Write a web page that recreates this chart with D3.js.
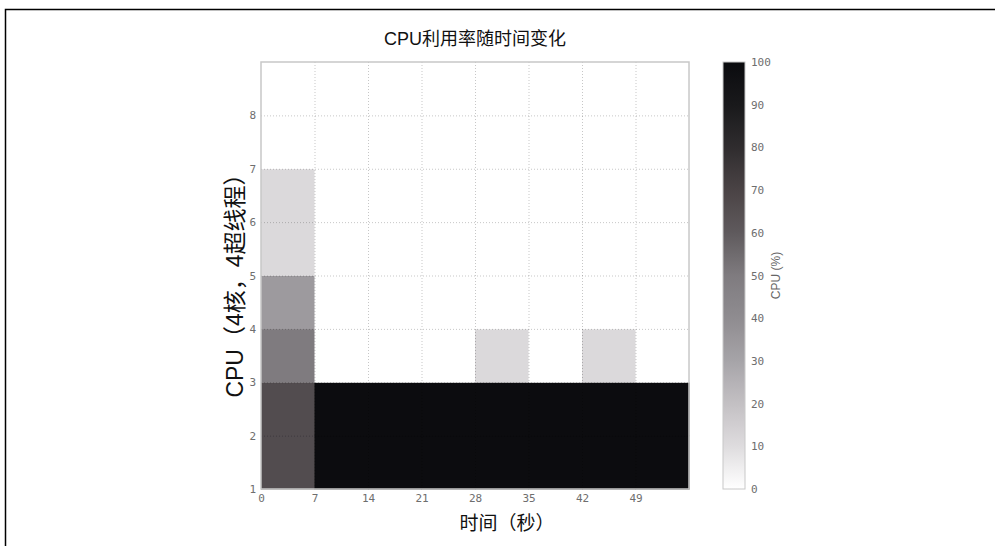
<!DOCTYPE html>
<html>
<head>
<meta charset="utf-8">
<script src="https://cdn.jsdelivr.net/npm/d3@7"></script>
<style>
  body { margin: 0; background: #fff; }
  .tick text { font-family: "DejaVu Sans Mono", monospace; fill: #6e6e6e; font-size: 11px; }
</style>
</head>
<body>
<script>
// data
var timeTicks = [0, 7, 14, 21, 28, 35, 42, 49];
var binStarts = [0, 7, 14, 21, 28, 35, 42, 49];
var cpuTicks = [1, 2, 3, 4, 5, 6, 7, 8];
var cpuRows = [1, 2, 3, 4, 5, 6, 7, 8];
var usage = [
    [66, 66, 50, 34, 11, 11, 0, 0],
    [99, 99, 0, 0, 0, 0, 0, 0],
    [99, 99, 0, 0, 0, 0, 0, 0],
    [99, 99, 0, 0, 0, 0, 0, 0],
    [99, 99, 11, 0, 0, 0, 0, 0],
    [99, 99, 0, 0, 0, 0, 0, 0],
    [99, 99, 11, 0, 0, 0, 0, 0],
    [99, 99, 0, 0, 0, 0, 0, 0]
];
var barTicks = [0, 10, 20, 30, 40, 50, 60, 70, 80, 90, 100];

var width = 995, height = 546;
var plot = {left: 261, right: 689, top: 62, bottom: 489};
var bar = {left: 723, right: 745};

var svg = d3.select("body").append("svg")
    .attr("width", width)
    .attr("height", height);

// page frame
svg.append("path")
    .attr("d", "M5.5," + height + "V9.5H" + width)
    .attr("fill", "none")
    .attr("stroke", "#000")
    .attr("stroke-width", 1.5);

var x = d3.scaleLinear().domain([0, 56]).range([plot.left, plot.right]);
var y = d3.scaleLinear().domain([1, 9]).range([plot.bottom, plot.top]);
var color = d3.scaleLinear()
    .domain(barTicks)
    .range(["#ffffff", "#dedcde", "#c3c0c3", "#a6a4a8", "#8f8c90", "#7f7b7f",
            "#5f5a5d", "#4a4345", "#2f2c2e", "#19191b", "#0a0b0e"]);

var cells = [];
usage.forEach(function (col, i) {
    col.forEach(function (v, j) {
        cells.push({t: binStarts[i], cpu: cpuRows[j], v: v});
    });
});

svg.append("g").selectAll("rect")
    .data(cells)
    .enter().append("rect")
    .attr("x", function (d) { return x(d.t); })
    .attr("y", function (d) { return y(d.cpu + 1); })
    .attr("width", function (d) { return x(d.t + 7) - x(d.t) + 0.5; })
    .attr("height", function (d) { return y(d.cpu) - y(d.cpu + 1) + 0.5; })
    .attr("fill", function (d) { return color(d.v); });

// dotted grid
var grid = svg.append("g")
    .attr("stroke", "#000")
    .attr("stroke-opacity", 0.22)
    .attr("stroke-dasharray", "1,2");
grid.selectAll("line.v")
    .data(timeTicks.slice(1))
    .enter().append("line")
    .attr("x1", function (d) { return x(d) + 0.5; })
    .attr("x2", function (d) { return x(d) + 0.5; })
    .attr("y1", plot.top)
    .attr("y2", plot.bottom);
grid.selectAll("line.h")
    .data(cpuTicks.slice(1))
    .enter().append("line")
    .attr("y1", function (d) { return y(d) + 0.5; })
    .attr("y2", function (d) { return y(d) + 0.5; })
    .attr("x1", plot.left)
    .attr("x2", plot.right);

svg.append("rect")
    .attr("x", plot.left).attr("y", plot.top)
    .attr("width", plot.right - plot.left).attr("height", plot.bottom - plot.top)
    .attr("fill", "none").attr("stroke", "#c8c8c8").attr("stroke-width", 1.5);

var xAxis = svg.append("g")
    .attr("transform", "translate(0," + plot.bottom + ")")
    .call(d3.axisBottom(x).tickValues(timeTicks).tickSize(0).tickPadding(5));
xAxis.select(".domain").remove();

var yAxis = svg.append("g")
    .attr("transform", "translate(" + plot.left + ",0)")
    .call(d3.axisLeft(y).tickValues(cpuTicks).tickSize(0).tickPadding(5));
yAxis.select(".domain").remove();

// colorbar
var defs = svg.append("defs");
var grad = defs.append("linearGradient")
    .attr("id", "cbar")
    .attr("x1", 0).attr("y1", 1).attr("x2", 0).attr("y2", 0);
d3.range(0, 101, 5).forEach(function (v) {
    grad.append("stop").attr("offset", v / 100).attr("stop-color", color(v));
});
var cb = d3.scaleLinear().domain([0, 100]).range([plot.bottom, plot.top]);
svg.append("rect")
    .attr("x", bar.left).attr("y", plot.top)
    .attr("width", bar.right - bar.left).attr("height", plot.bottom - plot.top)
    .attr("fill", "url(#cbar)")
    .attr("stroke", "#c8c8c8").attr("stroke-width", 1);
var cAxis = svg.append("g")
    .attr("transform", "translate(" + bar.right + ",0)")
    .call(d3.axisRight(cb).tickValues(barTicks).tickSize(0).tickPadding(6));
cAxis.select(".domain").remove();

svg.append("text")
    .attr("transform", "translate(780," + ((plot.top + plot.bottom) / 2) + ") rotate(-90)")
    .attr("text-anchor", "middle")
    .attr("font-family", "'Liberation Sans', Arial, sans-serif")
    .attr("font-size", 12)
    .attr("fill", "#666")
    .text("CPU (%)");

// titles
svg.append("text")
    .attr("x", (plot.left + plot.right) / 2)
    .attr("y", 45)
    .attr("text-anchor", "middle")
    .attr("font-family", "'Liberation Sans', 'Noto Sans CJK SC', sans-serif")
    .attr("font-size", 18)
    .attr("fill", "#111")
    .text("CPU利用率随时间变化");

svg.append("text")
    .attr("x", 507)
    .attr("y", 530)
    .attr("text-anchor", "middle")
    .attr("font-family", "'Noto Sans CJK SC', sans-serif")
    .attr("font-size", 19)
    .attr("fill", "#111")
    .text("时间（秒）");

svg.append("text")
    .attr("transform", "translate(243,280) rotate(-90)")
    .attr("text-anchor", "middle")
    .attr("font-family", "'Liberation Sans', 'Noto Sans CJK SC', sans-serif")
    .attr("font-size", 23)
    .attr("fill", "#111")
    .text("CPU（4核，4超线程）");
</script>
</body>
</html>
